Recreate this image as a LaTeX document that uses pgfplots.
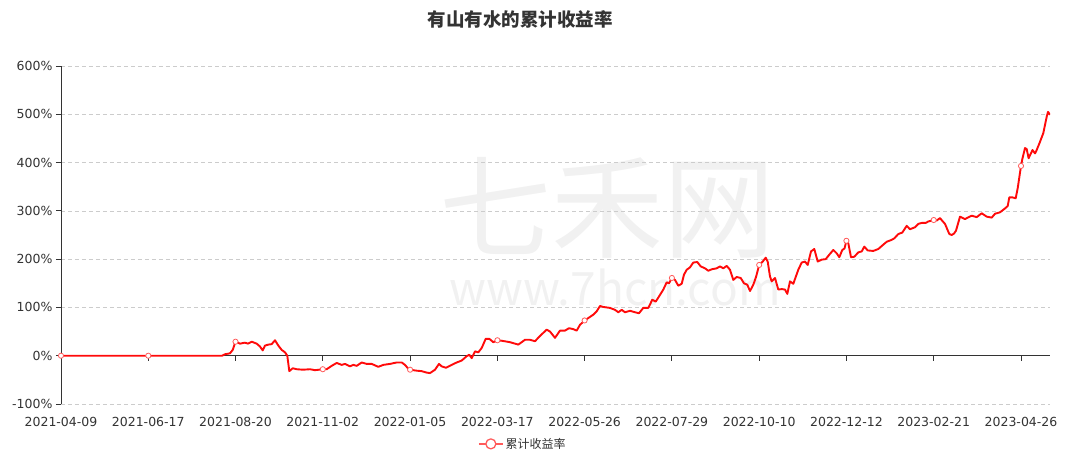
\documentclass[border=0pt]{standalone}
\usepackage{fontspec}
\setmainfont{Noto Sans CJK SC}
\newfontfamily\dejavu{DejaVu Sans}
\usepackage{pgfplots}
\pgfplotsset{compat=1.18}
\definecolor{txt}{HTML}{333333}
\definecolor{gridc}{HTML}{CCCCCC}
\definecolor{wm}{HTML}{F1F1F1}
\definecolor{linered}{HTML}{FF0A0A}
\definecolor{markred}{HTML}{FF5A5A}
\pgfplotstableread{
x y
61 0
148.3 0
222 0
225 3
230 5
232.7 12
235.5 29
240 25
245 27
248 25
251.7 29
256.7 25
260 19
262.7 11
265 21
268.3 23
271.7 24
275 32
278.3 21
281.7 12
285 7
287.3 0
289.3 -32
292.7 -26
296.7 -28
303 -29
310 -28
315 -30
322.8 -28
326.7 -28
331.7 -21
336.7 -15
341.7 -19
345 -17
350 -22
353.3 -19
356.7 -21
361.7 -14
366.7 -17
371.7 -17
378.3 -23
383.3 -19
390 -17
396.7 -14
401.7 -14
405 -19
408.3 -27
410.1 -29
416.7 -31
421.7 -32
426.7 -35
430 -36
435 -29
439 -17
441.7 -22
446 -25
451.7 -19
456.7 -14
461.7 -10
466.7 -1
469.3 2
471.7 -5
475 9
478.3 7
481.7 16
485.7 35
489.3 35
493.3 28
497.4 32
501.7 31
510 28
518.3 23
525 33
530 33
535 30
540 41
546.7 54
550 50
555 37
560 52
565 52
569 57
573.3 55
576.7 52
580 64
584.6 73
588.3 78
593.3 85
596.7 92
600 103
603.3 101
610 99
615 95
618.3 90
621.7 95
625 90
630 93
635 90
639 88
643.3 99
648.3 99
652.3 116
655.7 112
660 126
663.3 137
666.7 152
669 150
671.9 161
675 157
678.3 145
681.7 149
684 168
686.7 178
690 183
693.3 193
697.3 194
700.7 185
705 181
708.3 176
711.7 179
716.7 181
720 185
723.3 181
726.7 186
730 178
733.3 157
736.7 163
740.7 161
744 150
747.3 147
750 134
753.3 147
756 163
759.2 188
762.7 195
765.7 203
767.7 195
770 164
771.7 154
775 161
778.3 137
781.7 138
785 137
787.3 128
790 154
793.3 149
798.3 178
801.7 193
805 195
807.7 188
811 216
814.3 221
817.7 195
821.7 199
825.7 200
830 211
833.3 219
836.7 212
839.3 204
842.3 219
844.5 222
846.4 238
848.3 233
851 204
854.3 205
858.3 214
861.7 216
864.3 226
867.7 218
873.3 217
878.3 221
883.3 230
886.7 236
891.7 240
894.3 243
898.3 252
902.3 255
906.7 269
910 262
915 266
918.3 273
921.7 275
925.7 275
928.3 278
933.7 281
936.7 280
940 285
942 280
945 273
949.3 252
951.7 250
954 253
956 259
960 288
965 283
971.7 290
976.7 287
981.7 295
986.7 288
991.7 286
995 294
1000 297
1005 305
1007.7 310
1009.3 328
1012.3 328
1015.7 326
1017.7 347
1021 393
1022.3 407
1025 430
1026.7 428
1028.6 409
1032.5 426
1035 419
1036.7 426
1040 443
1043.3 461
1045 478
1046.7 495
1048 505
1050 499
}\cumret
\pgfplotstableread{
x y
61 0
148.3 0
235.5 29
322.8 -28
410.1 -29
497.4 32
584.6 73
671.9 161
759.2 188
846.4 238
933.7 281
1021 393
}\marks
\begin{document}
\begin{tikzpicture}[x=1pt,y=1pt]
\path[use as bounding box] (-61,-58) rectangle (1010,404);
\node[wm, inner sep=0pt, font=\fontsize{112}{112}\selectfont] at (546, 196) {七禾网};
\node[wm, inner sep=0pt, font=\fontsize{46}{46}\selectfont] at (554, 117) {www.7hcn.com};
\node[txt, font=\fontsize{18.5}{18.5}\selectfont\bfseries] at (459, 385) {有山有水的累计收益率};
\begin{axis}[
  scale only axis,
  width=989pt, height=338pt,
  xmin=61, xmax=1050, ymin=-100, ymax=600,
  axis lines*=left,
  x axis line style={draw=none},
  y axis line style={draw=txt, line width=0.8pt},
  tick align=outside,
  xtick={61,148.27,235.54,322.81,410.08,497.35,584.62,671.89,759.16,846.43,933.7,1021},
  xticklabels={2021-04-09,2021-06-17,2021-08-20,2021-11-02,2022-01-05,2022-03-17,2022-05-26,2022-07-29,2022-10-10,2022-12-12,2023-02-21,2023-04-26},
  x tick style={draw=none},
  ytick={-100,0,100,200,300,400,500,600},
  yticklabels={-100\%,0\%,100\%,200\%,300\%,400\%,500\%,600\%},
  y tick style={draw=txt, line width=0.8pt},
  major tick length=5pt,
  ymajorgrids,
  grid style={gridc, dash pattern=on 4pt off 3pt, line width=0.7pt},
  tick label style={txt, font=\dejavu\fontsize{12.5}{12.5}\selectfont},
  x tick label style={yshift=-5pt},
  legend style={at={(0.467,-0.118)}, anchor=center, draw=none, fill=none,
    font=\fontsize{12}{12}\selectfont, text=txt},
  legend image code/.code={
    \draw[markred, line width=1.5pt] (0pt,0pt) -- (24pt,0pt);
    \draw[markred, fill=white, line width=1.3pt] (12pt,0pt) circle (5pt);
  },
]
\draw[txt, line width=0.8pt] (axis cs:61,0) -- (axis cs:1050,0);
\pgfplotsinvokeforeach{148.27,235.54,322.81,410.08,497.35,584.62,671.89,759.16,846.43,933.7,1021}{
  \draw[txt, line width=0.8pt] (axis cs:#1,0) -- ([yshift=-5pt]axis cs:#1,0);
}
\addplot[linered, line width=1.9pt, line join=round, no markers] table[x=x,y=y] {\cumret};
\addlegendentry{累计收益率}
\addplot[only marks, forget plot, mark=*, mark size=2.6pt,
  mark options={fill=white, draw=markred, line width=0.8pt}] table[x=x,y=y] {\marks};
\end{axis}
\end{tikzpicture}
\end{document}
